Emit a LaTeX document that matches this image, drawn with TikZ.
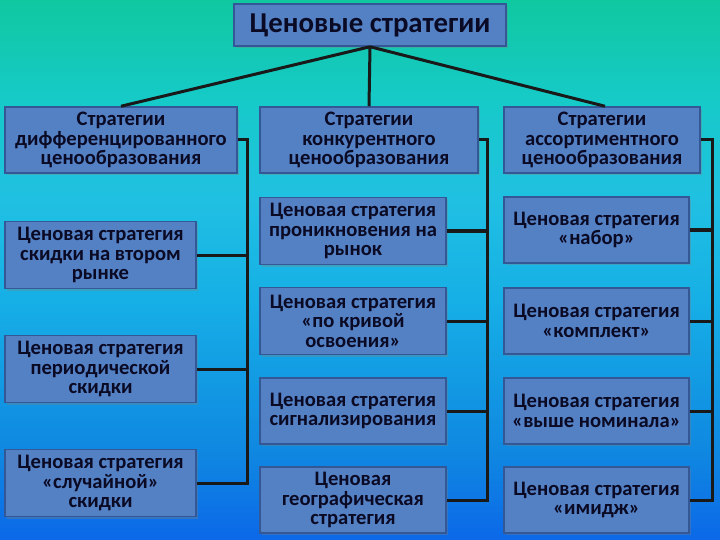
\documentclass[tikz,border=0pt]{standalone}
\usepackage{fontspec}
\setmainfont{Carlito}
\usepackage{tikz}
\usetikzlibrary{shadows}
\definecolor{bgA}{RGB}{16,200,160}
\definecolor{bgB}{RGB}{22,202,200}
\definecolor{bgC}{RGB}{32,192,226}
\definecolor{bgD}{RGB}{22,175,230}
\definecolor{bgE}{RGB}{15,135,225}
\definecolor{bgF}{RGB}{12,104,232}
\definecolor{boxfill}{RGB}{84,128,196}
\definecolor{boxline}{RGB}{52,88,150}
\definecolor{ink}{RGB}{10,10,36}
\pgfdeclareverticalshading{bgshade}{100bp}{color(0bp)=(bgF); color(25bp)=(bgF);
	color(32.9bp)=(bgE); color(47.2bp)=(bgD); color(56.5bp)=(bgC);
	color(65.7bp)=(bgB); color(75bp)=(bgA); color(100bp)=(bgA)}

\begin{document}
\begin{tikzpicture}[x=1pt,y=-1pt,
	box/.style={draw=boxline, line width=1.5pt, fill=boxfill, text=ink,
		align=center, inner sep=1pt, font=\bfseries\fontsize{20.6}{19.5}\selectfont,
		drop shadow={opacity=0.35, shadow xshift=2pt, shadow yshift=-2pt}},
	conn/.style={line width=3pt, draw=black!90}]
	
	% background
	\shade[shading=bgshade] (0,0) rectangle (720,540);
	\useasboundingbox (0,0) rectangle (720,540);
	
	\node[box, minimum width=272pt, minimum height=42pt, font=\bfseries\fontsize{28.8}{28.8}\selectfont] (top) at (370,25) {Ценовые стратегии};
	
	\node[box, minimum width=232pt, minimum height=66pt] (hd1) at (121,140) {Стратегии\\дифференцированного\\ценообразования};
	\node[box, minimum width=218pt, minimum height=66pt] (hd2) at (369,140) {Стратегии\\конкурентного\\ценообразования};
	\node[box, minimum width=196pt, minimum height=66pt] (hd3) at (602,140) {Стратегии\\ассортиментного\\ценообразования};
	
	\node[box, minimum width=191pt, minimum height=67pt] (a1) at (100.5,255) {Ценовая стратегия\\скидки на втором\\рынке};
	\node[box, minimum width=191pt, minimum height=67pt] (a2) at (100.5,369) {Ценовая стратегия\\периодической\\скидки};
	\node[box, minimum width=191pt, minimum height=67pt] (a3) at (100.5,483) {Ценовая стратегия\\«случайной»\\скидки};
	
	\node[box, minimum width=186pt, minimum height=67pt] (b1) at (353,231) {Ценовая стратегия\\проникновения на\\рынок};
	\node[box, minimum width=186pt, minimum height=67pt] (b2) at (353,321) {Ценовая стратегия\\«по кривой\\освоения»};
	\node[box, minimum width=186pt, minimum height=66pt] (b3) at (353,411) {Ценовая стратегия\\сигнализирования};
	\node[box, minimum width=186pt, minimum height=66pt] (b4) at (353,500) {Ценовая\\географическая\\стратегия};
	
	\node[box, minimum width=185pt, minimum height=66pt] (c1) at (596.5,230) {Ценовая стратегия\\«набор»};
	\node[box, minimum width=185pt, minimum height=66pt] (c2) at (596.5,321) {Ценовая стратегия\\«комплект»};
	\node[box, minimum width=185pt, minimum height=66pt] (c3) at (596.5,411) {Ценовая стратегия\\«выше номинала»};
	\node[box, minimum width=185pt, minimum height=66pt] (c4) at (596.5,500) {Ценовая стратегия\\«имидж»};
	
	% buses
	\coordinate (busA) at (247,0);
	\coordinate (busB) at (487,0);
	\coordinate (busC) at (712,0);
	
	\draw[conn] (top.south) -- (hd1.north);
	\draw[conn] (top.south) -- (hd2.north);
	\draw[conn] (top.south) -- ([xshift=3pt]hd3.north);
	
	\draw[conn] (hd1.east) -- (hd1.east -| busA) -- (a3.east -| busA) -- (a3.east);
	\draw[conn] (a1.east) -- (a1.east -| busA);
	\draw[conn] (a2.east) -- (a2.east -| busA);
	
	\draw[conn] (hd2.east) -- (hd2.east -| busB) -- (b4.east -| busB) -- (b4.east);
	\foreach \n in {b1,b2,b3}
		\draw[conn] (\n.east) -- (\n.east -| busB);
	
	\draw[conn] (hd3.east) -- (hd3.east -| busC) -- (c4.east -| busC) -- (c4.east);
	\foreach \n in {c1,c2,c3}
		\draw[conn] (\n.east) -- (\n.east -| busC);
	
\end{tikzpicture}
\end{document}
